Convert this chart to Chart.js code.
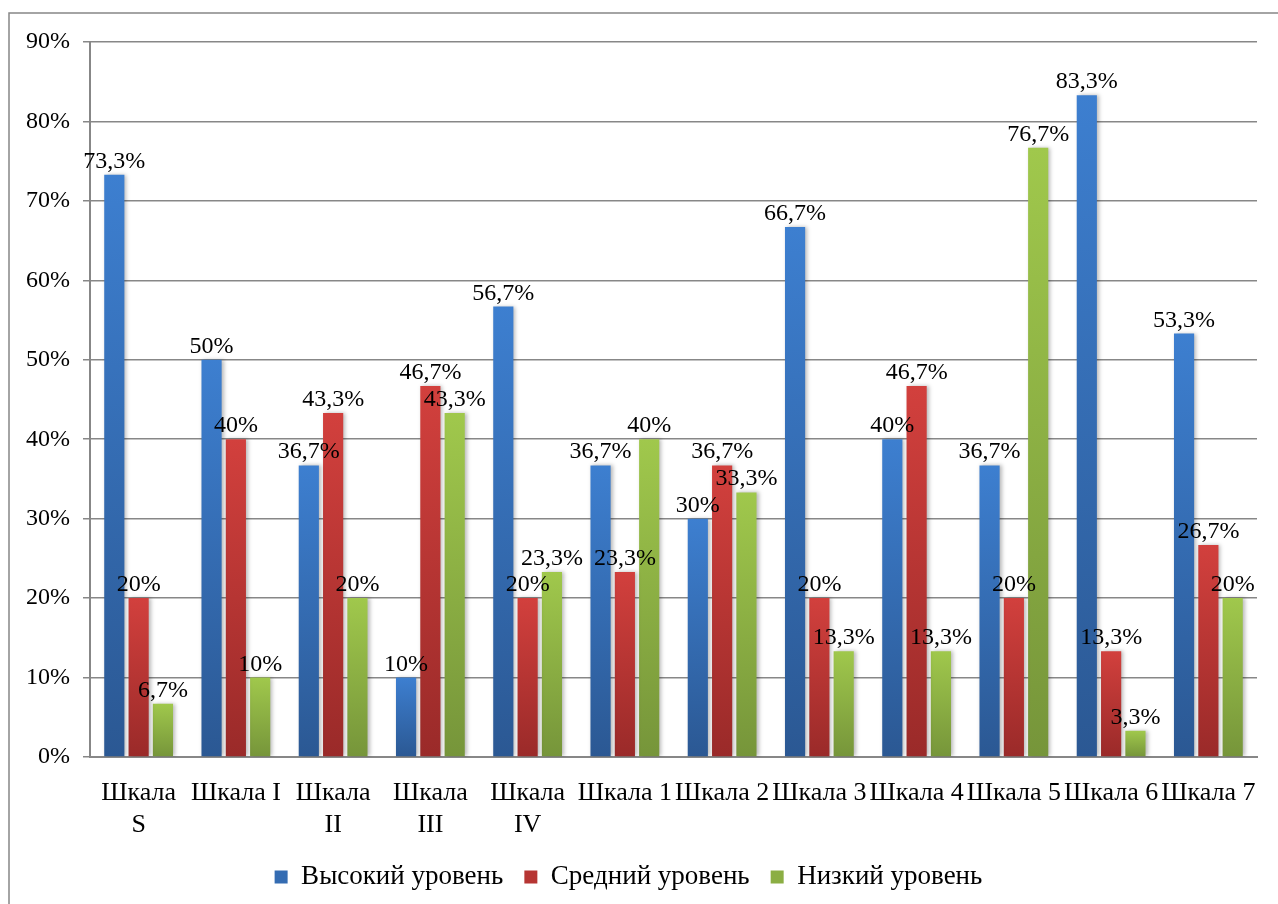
<!DOCTYPE html>
<html>
<head>
<meta charset="utf-8">
<script src="https://cdn.jsdelivr.net/npm/chart.js@4"></script>
<style>
  html, body { margin: 0; padding: 0; background: #fff; }
  #wrap { width: 1278px; height: 904px; }
</style>
</head>
<body>
<div id="wrap"><canvas id="levelsChart"></canvas></div>
<script>
// chart data
const scales = [['Шкала', 'S'], 'Шкала I', ['Шкала', 'II'], ['Шкала', 'III'], ['Шкала', 'IV'],
  'Шкала 1', 'Шкала 2', 'Шкала 3', 'Шкала 4', 'Шкала 5', 'Шкала 6', 'Шкала 7'];
const seriesNames = ['Высокий уровень', 'Средний уровень', 'Низкий уровень'];
const highLevel = [73.3, 50, 36.7, 10, 56.7, 36.7, 30, 66.7, 40, 36.7, 83.3, 53.3];
const midLevel = [20, 40, 43.3, 46.7, 20, 23.3, 36.7, 20, 46.7, 20, 13.3, 26.7];
const lowLevel = [6.7, 10, 20, 43.3, 23.3, 40, 33.3, 13.3, 13.3, 76.7, 3.3, 20];
const yTicks = [0, 10, 20, 30, 40, 50, 60, 70, 80, 90];

const serif = "'Liberation Serif', 'Times New Roman', serif";
const gridGray = '#878787';

// top / middle / bottom colours of each series gradient
const palette = [
  ['#3d7fd0', '#346cb2', '#2b5893'],
  ['#d2403d', '#b63533', '#9a2a29'],
  ['#a0c84c', '#8bae43', '#76953a']
];

function barGradient(i) {
  return (c) => {
    const chart = c.chart;
    const y = chart.scales && chart.scales.y;
    if (!chart.chartArea || !y || c.raw === undefined) return palette[i][0];
    const top = y.getPixelForValue(c.raw);
    const base = y.getPixelForValue(0);
    if (!isFinite(top) || Math.abs(base - top) < 1) return palette[i][0];
    const g = chart.ctx.createLinearGradient(0, top, 0, base);
    g.addColorStop(0, palette[i][0]);
    g.addColorStop(1, palette[i][2]);
    return g;
  };
}

function fmt(v) {
  return String(v).replace('.', ',') + '%';
}

// soft shadow on the right side of the bars
const barShadow = {
  id: 'barShadow',
  beforeDatasetsDraw(chart) {
    const ctx = chart.ctx;
    ctx.save();
    ctx.shadowColor = 'rgba(0,0,0,0.28)';
    ctx.shadowBlur = 4;
    ctx.shadowOffsetX = 2;
    ctx.shadowOffsetY = 0;
  },
  afterDatasetsDraw(chart) {
    chart.ctx.restore();
  }
};

// value labels above each bar
const valueLabels = {
  id: 'valueLabels',
  afterDatasetsDraw(chart) {
    const ctx = chart.ctx;
    ctx.save();
    ctx.font = '24px ' + serif;
    ctx.fillStyle = '#000';
    ctx.textAlign = 'center';
    ctx.textBaseline = 'alphabetic';
    chart.data.datasets.forEach((ds, di) => {
      chart.getDatasetMeta(di).data.forEach((bar, j) => {
        ctx.fillText(fmt(ds.data[j]), bar.x, bar.y - 7);
      });
    });
    ctx.restore();
  }
};

// outer frame of the chart
const frame = {
  id: 'frame',
  afterDraw(chart) {
    const ctx = chart.ctx;
    ctx.save();
    ctx.strokeStyle = gridGray;
    ctx.lineWidth = 1.5;
    ctx.strokeRect(9, 13, chart.width + 20, chart.height + 20);
    ctx.restore();
  }
};

const ctx = document.getElementById('levelsChart').getContext('2d');
const levelsChart = new Chart(ctx, {
  type: 'bar',
  data: {
    labels: scales,
    datasets: [highLevel, midLevel, lowLevel].map((vals, i) => ({
      label: seriesNames[i],
      data: vals,
      backgroundColor: barGradient(i),
      borderWidth: 0,
      categoryPercentage: 0.75,
      barPercentage: 0.83
    }))
  },
  options: {
    responsive: true,
    maintainAspectRatio: false,
    animation: false,
    layout: { padding: { left: 0, top: 42, right: 21, bottom: 3.5 } },
    scales: {
      x: {
        grid: { display: false, drawTicks: false },
        border: { color: gridGray, width: 2 },
        ticks: {
          color: '#000',
          padding: 21,
          maxRotation: 0,
          autoSkip: false,
          font: { family: serif, size: 26, lineHeight: 1.2 }
        },
        afterFit(scale) { scale.height = 85.5; }
      },
      y: {
        min: 0,
        max: 90,
        afterBuildTicks(scale) { scale.ticks = yTicks.map(v => ({ value: v })); },
        grid: { color: gridGray, lineWidth: 1.5, tickLength: 7 },
        border: { color: gridGray, width: 2 },
        ticks: {
          color: '#000',
          padding: 13,
          font: { family: serif, size: 24 },
          callback: (v) => v + '%'
        },
        afterFit(scale) { scale.width = 90; }
      }
    },
    plugins: {
      legend: {
        position: 'bottom',
        labels: {
          color: '#000',
          boxWidth: 13,
          boxHeight: 13,
          padding: 21,
          font: { family: serif, size: 27 },
          generateLabels(chart) {
            return seriesNames.map((name, i) => ({
              text: name,
              fillStyle: palette[i][1],
              strokeStyle: palette[i][1],
              lineWidth: 0,
              datasetIndex: i
            }));
          }
        }
      },
      tooltip: { enabled: false }
    }
  },
  plugins: [barShadow, valueLabels, frame]
});
</script>
</body>
</html>
